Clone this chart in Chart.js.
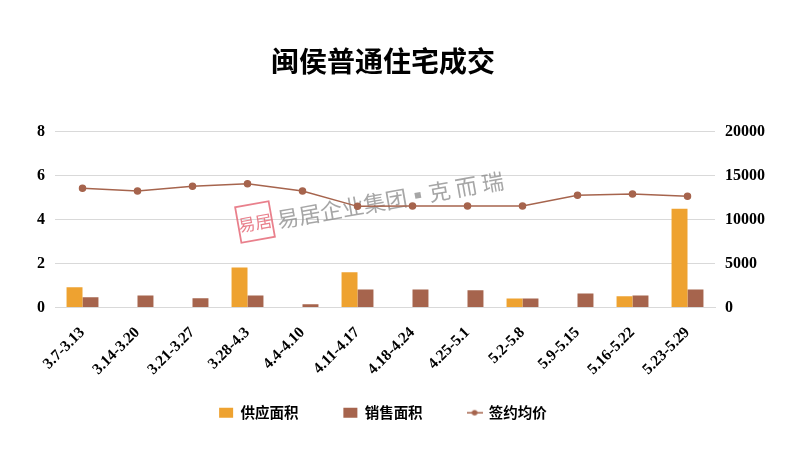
<!doctype html>
<html lang="zh">
 <head>
  <meta charset="UTF-8">
  <title>闽侯普通住宅成交</title>
  <script src="https://cdn.jsdelivr.net/npm/chart.js"></script>
  <style>
        body { margin: 0; padding: 0; background: #fff; }
        #wrap { width: 796px; height: 465px; }
    </style>
 </head>
 <body>
  <div id="wrap"><canvas id="chart"></canvas></div>
  <script>
        const weeks = ['3.7-3.13', '3.14-3.20', '3.21-3.27', '3.28-4.3', '4.4-4.10', '4.11-4.17',
            '4.18-4.24', '4.25-5.1', '5.2-5.8', '5.9-5.15', '5.16-5.22', '5.23-5.29'];
        const supplyArea = [0.92, 0, 0, 1.82, 0, 1.60, 0, 0, 0.41, 0, 0.51, 4.49];
        const salesArea = [0.47, 0.55, 0.42, 0.55, 0.15, 0.82, 0.82, 0.78, 0.41, 0.64, 0.55, 0.82];
        const avgPrice = [13550, 13250, 13780, 14080, 13250, 11500, 11550, 11550, 11550, 12770, 12910, 12650];
        const legendOrder = ['供应面积', '销售面积', '签约均价'];

        const orange = '#EEA230';
        const brown = '#A6644D';
        const tickFont = { family: 'Liberation Serif', size: 16, weight: 'bold' };

        // petit trait + point pour la légende de la courbe
        const lineIcon = document.createElement('canvas');
        lineIcon.width = 16; lineIcon.height = 8;
        const ic = lineIcon.getContext('2d');
        ic.strokeStyle = brown; ic.lineWidth = 1.5;
        ic.beginPath(); ic.moveTo(0, 4); ic.lineTo(16, 4); ic.stroke();
        ic.fillStyle = brown;
        ic.beginPath(); ic.arc(8, 4, 2.8, 0, Math.PI * 2); ic.fill();

        const watermark = {
            id: 'watermark',
            beforeDatasetsDraw(chart) {
                const ctx = chart.ctx;
                ctx.save();
                ctx.translate(255, 222);
                ctx.rotate(-0.175);
                ctx.globalAlpha = 0.8;
                ctx.strokeStyle = '#E4606F';
                ctx.lineWidth = 1.8;
                ctx.strokeRect(-17, -18, 34, 36);
                ctx.fillStyle = '#E4606F';
                ctx.font = '17px "Noto Sans CJK SC"';
                ctx.textAlign = 'center';
                ctx.textBaseline = 'middle';
                ctx.fillText('易居', 0, 1);
                ctx.globalAlpha = 0.7;
                ctx.fillStyle = '#808080';
                ctx.textAlign = 'left';
                ctx.font = '22px "Noto Sans CJK SC"';
                ctx.fillText('易居企业集团▪克 而 瑞', 22, 2);
                ctx.restore();
            }
        };

        new Chart(document.getElementById('chart'), {
            data: {
                labels: weeks,
                datasets: [
                    { type: 'line', label: '签约均价', data: avgPrice, yAxisID: 'y1', order: 0,
                      borderColor: brown, backgroundColor: brown, borderWidth: 1.5,
                      pointRadius: 3, pointHoverRadius: 3, tension: 0 },
                    { type: 'bar', label: '供应面积', data: supplyArea, yAxisID: 'y', order: 1,
                      backgroundColor: orange, categoryPercentage: 0.58, barPercentage: 1 },
                    { type: 'bar', label: '销售面积', data: salesArea, yAxisID: 'y', order: 2,
                      backgroundColor: brown, categoryPercentage: 0.58, barPercentage: 1 }
                ]
            },
            options: {
                responsive: true,
                maintainAspectRatio: false,
                animation: false,
                layout: { padding: { left: 0, right: 30, top: 0, bottom: 35 } },
                plugins: {
                    title: {
                        display: true,
                        text: '闽侯普通住宅成交',
                        color: '#000',
                        font: { family: 'Noto Sans CJK SC', size: 28, weight: 'bold' },
                        padding: { top: 45, bottom: 53 }
                    },
                    legend: {
                        position: 'bottom',
                        labels: {
                            color: '#000',
                            font: { family: 'Noto Sans CJK SC', size: 14.5, weight: 'bold' },
                            boxHeight: 10,
                            pointStyleWidth: 14,
                            padding: 16,
                            usePointStyle: true,
                            sort: (a, b) => legendOrder.indexOf(a.text.trim()) - legendOrder.indexOf(b.text.trim()),
                            generateLabels(chart) {
                                return chart.data.datasets.map((ds, i) => ({
                                    // espaces idéographiques pour écarter les entrées
                                    text: ds.type === 'line' ? ds.label : ds.label + '\u3000\u3000',
                                    datasetIndex: i,
                                    fillStyle: ds.backgroundColor,
                                    strokeStyle: ds.backgroundColor,
                                    lineWidth: 0,
                                    fontColor: '#000',
                                    pointStyle: ds.type === 'line' ? lineIcon : 'rect',
                                    hidden: false
                                }));
                            }
                        }
                    },
                    tooltip: { enabled: false }
                },
                scales: {
                    x: {
                        grid: { display: false },
                        border: { color: '#d9d9d9' },
                        ticks: { color: '#000', font: { family: 'Liberation Serif', size: 15.5, weight: 'bold' },
                                 minRotation: 45, maxRotation: 45, autoSkip: false, padding: 8 },
                        afterFit(scale) { scale.height = 82; }
                    },
                    y: {
                        position: 'left',
                        min: 0, max: 8,
                        ticks: { stepSize: 2, color: '#000', font: tickFont, padding: 10 },
                        grid: { color: '#d9d9d9', drawTicks: false },
                        border: { display: false },
                        afterFit(scale) { scale.width = 55; }
                    },
                    y1: {
                        position: 'right',
                        min: 0, max: 20000,
                        ticks: { stepSize: 5000, color: '#000', font: tickFont, padding: 10,
                                 callback: v => String(v) },
                        grid: { display: false, drawTicks: false },
                        border: { display: false },
                        afterFit(scale) { scale.width = 51; }
                    }
                }
            },
            plugins: [watermark]
        });
    </script>
 </body>
</html>
